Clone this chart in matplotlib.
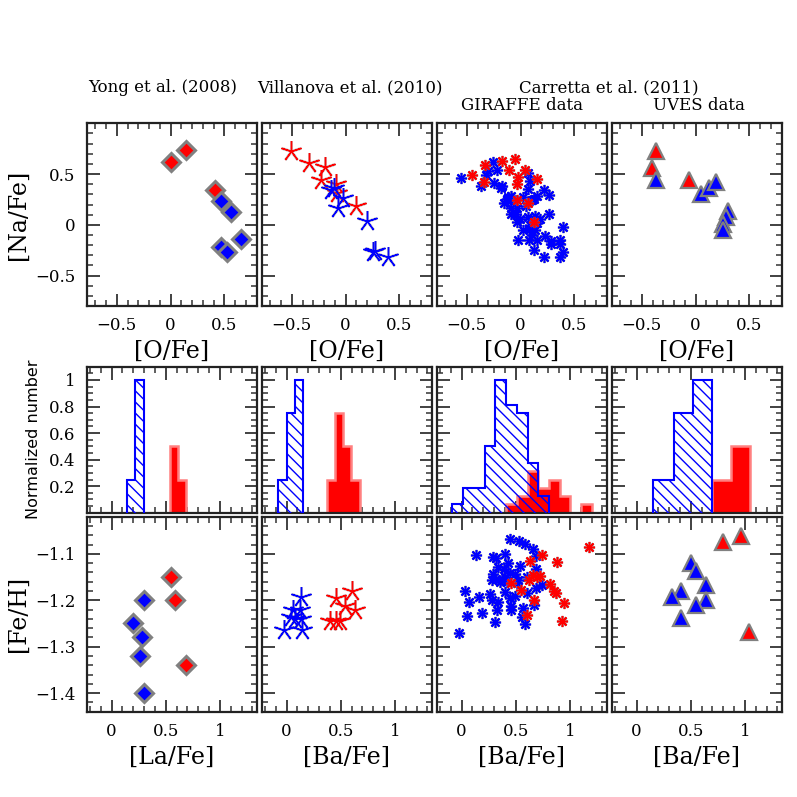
import numpy as np
import matplotlib
matplotlib.use("Agg")
import matplotlib.pyplot as plt
from matplotlib.ticker import MultipleLocator

plt.rcParams['font.family'] = 'DejaVu Serif'
plt.rcParams['hatch.linewidth'] = 1.0

RED = '#ff0000'
BLUE = '#0000ff'
GREY = '#808080'

# ---- top row: [Na/Fe] vs [O/Fe]
yong_o_red = [0.0, 0.14, 0.41]
yong_na_red = [0.62, 0.74, 0.34]
yong_o_blue = [0.47, 0.56, 0.65, 0.47, 0.52]
yong_na_blue = [0.23, 0.13, -0.14, -0.22, -0.27]

vill_o_red = [-0.51, -0.34, -0.19, -0.23, -0.09, -0.08, 0.10]
vill_na_red = [0.73, 0.61, 0.57, 0.44, 0.40, 0.31, 0.19]
vill_o_blue = [-0.14, -0.11, -0.02, -0.07, 0.20, 0.25, 0.27, 0.39]
vill_na_blue = [0.34, 0.36, 0.26, 0.17, 0.04, -0.27, -0.26, -0.32]

gir_o_red = [-0.45, -0.33, -0.17, -0.05, -0.11, 0.04, -0.02, -0.03, 0.15, -0.34, -0.03, 0.07, 0.12]
gir_na_red = [0.49, 0.59, 0.63, 0.65, 0.54, 0.54, 0.47, 0.40, 0.45, 0.42, 0.24, 0.21, 0.03]
gir_o_blue = [-0.55, -0.37, -0.32, -0.26, -0.22, -0.30, -0.25, -0.17, -0.18, 0.07,
              0.09, 0.07, 0.22, 0.26, 0.15, 0.12, -0.09, -0.13, -0.15, -0.06,
              0.02, -0.03, -0.09, -0.04, -0.03, -0.01, 0.07, 0.13, 0.18, 0.26,
              0.09, 0.15, 0.08, 0.02, 0.13, 0.11, 0.15, -0.02, 0.08, 0.23,
              0.28, 0.28, 0.37, 0.37, 0.39, 0.12, 0.22, 0.37, 0.39, -0.09,
              0.11, -0.12, 0.05]
gir_na_blue = [0.46, 0.38, 0.49, 0.62, 0.54, 0.53, 0.41, 0.38, 0.36, 0.51,
               0.43, 0.35, 0.34, 0.29, 0.28, 0.25, 0.28, 0.25, 0.21, 0.23,
               0.27, 0.17, 0.11, 0.11, 0.03, 0.06, 0.08, 0.09, 0.06, 0.11,
               0.00, 0.02, -0.04, -0.05, -0.05, -0.10, -0.15, -0.15, -0.15, -0.11,
               -0.16, -0.19, -0.15, -0.19, -0.02, -0.25, -0.32, -0.32, -0.27, 0.17,
               0.24, 0.27, 0.19]

uves_o_red = [-0.37, -0.41, -0.06]
uves_na_red = [0.73, 0.56, 0.44]
uves_o_blue = [-0.37, 0.05, 0.12, 0.19, 0.30, 0.28, 0.25, 0.25]
uves_na_blue = [0.44, 0.30, 0.36, 0.42, 0.14, 0.08, 0.01, -0.05]

# ---- bottom row: [Fe/H] vs [La/Fe] / [Ba/Fe]
yong_la_red = [0.55, 0.59, 0.69]
yong_fe_red = [-1.15, -1.20, -1.34]
yong_la_blue = [0.30, 0.20, 0.28, 0.26, 0.30]
yong_fe_blue = [-1.20, -1.25, -1.28, -1.32, -1.40]

vill_ba_red = [0.46, 0.60, 0.54, 0.63, 0.40, 0.49, 0.46]
vill_fe_red = [-1.195, -1.18, -1.213, -1.222, -1.244, -1.244, -1.245]
vill_ba_blue = [0.13, 0.06, 0.12, 0.04, 0.08, 0.13, -0.02, 0.14]
vill_fe_blue = [-1.193, -1.222, -1.222, -1.235, -1.24, -1.24, -1.264, -1.265]

gir_ba_red = [1.18, 0.74, 0.88, 0.63, 0.66, 0.72, 0.70, 0.62, 0.82, 0.85,
              0.87, 0.46, 0.55, 0.67, 0.95, 0.60, 0.93]
gir_fe_red = [-1.086, -1.102, -1.117, -1.116, -1.145, -1.147, -1.150, -1.157, -1.165, -1.180,
              -1.185, -1.163, -1.178, -1.199, -1.206, -1.231, -1.244]
gir_ba_blue = [0.45, 0.53, 0.59, 0.66, 0.69, 0.13, 0.29, 0.32, 0.40, 0.43,
               0.34, 0.39, 0.54, 0.49, 0.29, 0.28, 0.32, 0.37, 0.40, 0.45,
               0.51, 0.60, 0.69, 0.69, 0.74, 0.60, 0.49, 0.45, 0.40, 0.26,
               0.16, 0.03, 0.07, 0.28, 0.34, 0.33, 0.46, 0.46, 0.57, 0.67,
               0.19, 0.05, 0.31, 0.56, 0.59, -0.02, 0.35, 0.42, 0.52]
gir_fe_blue = [-1.069, -1.073, -1.078, -1.089, -1.104, -1.102, -1.107, -1.109, -1.100, -1.120,
               -1.129, -1.132, -1.127, -1.143, -1.143, -1.157, -1.154, -1.157, -1.150, -1.142,
               -1.163, -1.150, -1.132, -1.173, -1.168, -1.185, -1.190, -1.195, -1.183, -1.186,
               -1.192, -1.180, -1.204, -1.200, -1.204, -1.221, -1.213, -1.222, -1.216, -1.211,
               -1.227, -1.233, -1.247, -1.236, -1.251, -1.271, -1.160, -1.160, -1.157]

uves_ba_red = [0.80, 0.96, 1.04]
uves_fe_red = [-1.075, -1.061, -1.269]
uves_ba_blue = [0.505, 0.55, 0.41, 0.33, 0.64, 0.64, 0.545, 0.41]
uves_fe_blue = [-1.12, -1.138, -1.179, -1.192, -1.168, -1.199, -1.211, -1.238]

# ---- middle row: normalized histograms (bin edges, heights)
h1_blue_edges = [0.14, 0.22, 0.30]
h1_blue = [0.25, 1.0]
h1_red_edges = [0.54, 0.615, 0.69]
h1_red = [0.5, 0.25]

h2_blue_edges = [-0.075, 0.003, 0.08, 0.155]
h2_blue = [0.25, 0.75, 1.0]
h2_red_edges = [0.37, 0.447, 0.522, 0.598, 0.675]
h2_red = [0.25, 0.75, 0.5, 0.25]

h3_blue_edges = [-0.085, 0.015, 0.115, 0.215, 0.313, 0.413, 0.512, 0.612, 0.708, 0.807]
h3_blue = [0.0625, 0.1875, 0.1875, 0.5, 1.0, 0.8125, 0.75, 0.375, 0.125]
h3_red_edges = [0.413, 0.512, 0.612, 0.708, 0.807, 0.905, 1.0, 1.1, 1.2]
h3_red = [0.0625, 0.125, 0.3125, 0.1875, 0.25, 0.125, 0.0, 0.0625]

h4_blue_edges = [0.153, 0.347, 0.517, 0.693]
h4_blue = [0.25, 0.75, 1.0]
h4_red_edges = [0.693, 0.874, 1.045]
h4_red = [0.25, 0.5]

fig = plt.figure(figsize=(7.97, 7.97), dpi=100)
W = 797.0
lefts = [86.7, 261.7, 436.7, 611.7]
pw = 170.0
rows = [(123.3, 306.0), (366.7, 512.7), (516.7, 711.7)]


def make_ax(col, row):
    top, bot = rows[row]
    ax = fig.add_axes([lefts[col] / W, 1 - bot / W, pw / W, (bot - top) / W])
    for s in ax.spines.values():
        s.set_linewidth(1.6)
        s.set_color('#222222')
    ax.tick_params(which='both', direction='in', top=True, right=True,
                   color='#333333', labelsize=12, pad=8)
    ax.tick_params(which='major', length=9, width=1.3)
    ax.tick_params(which='minor', length=4.5, width=1.1)
    return ax


def diamonds(ax, x, y, c):
    ax.plot(x, y, 'D', ms=9, mfc=c, mec=GREY, mew=2.2, ls='none')


def stars5(ax, x, y, c):
    ax.plot(x, y, marker=(5, 2, 0), ms=15, mec=GREY, mew=2.0, ls='none', alpha=0.35)
    ax.plot(x, y, marker=(5, 2, 0), ms=15, mec=c, mew=1.0, ls='none')


def stars8(ax, x, y, c):
    ax.plot(x, y, marker=(8, 2, 0), ms=8, mec=GREY, mew=2.0, ls='none', alpha=0.6)
    ax.plot(x, y, marker=(8, 2, 0), ms=8, mec=c, mew=1.1, ls='none')


def triangles(ax, x, y, c):
    ax.plot(x, y, '^', ms=11, mfc=c, mec=GREY, mew=1.6, ls='none')


def hist(ax, edges, heights, kind):
    e = np.array(edges)
    h = np.array(heights)
    xs = np.repeat(e, 2)
    ys = np.concatenate([[0], np.repeat(h, 2), [0]])
    if kind == 'red':
        ax.fill_between(xs, 0, ys, color=RED, lw=0, zorder=2)
        ax.plot(xs, ys, color='#ff8080', lw=1.8, zorder=2.5, solid_joinstyle='miter')
    else:
        ax.fill_between(xs, 0, ys, facecolor='none', edgecolor=BLUE, hatch='\\\\\\',
                        lw=0, zorder=3)
        ax.plot(xs, ys, color=BLUE, lw=1.5, zorder=3.5, solid_joinstyle='miter')


top_sets = [
    (diamonds, yong_o_red, yong_na_red, yong_o_blue, yong_na_blue),
    (stars5, vill_o_red, vill_na_red, vill_o_blue, vill_na_blue),
    (stars8, gir_o_red, gir_na_red, gir_o_blue, gir_na_blue),
    (triangles, uves_o_red, uves_na_red, uves_o_blue, uves_na_blue),
]
bot_sets = [
    (diamonds, yong_la_red, yong_fe_red, yong_la_blue, yong_fe_blue),
    (stars5, vill_ba_red, vill_fe_red, vill_ba_blue, vill_fe_blue),
    (stars8, gir_ba_red, gir_fe_red, gir_ba_blue, gir_fe_blue),
    (triangles, uves_ba_red, uves_fe_red, uves_ba_blue, uves_fe_blue),
]
hists = [
    (h1_red_edges, h1_red, h1_blue_edges, h1_blue),
    (h2_red_edges, h2_red, h2_blue_edges, h2_blue),
    (h3_red_edges, h3_red, h3_blue_edges, h3_blue),
    (h4_red_edges, h4_red, h4_blue_edges, h4_blue),
]
bot_xlabels = ['[La/Fe]', '[Ba/Fe]', '[Ba/Fe]', '[Ba/Fe]']

for i in range(4):
    # top
    ax = make_ax(i, 0)
    f, xr, yr, xb, yb = top_sets[i]
    if f is stars8:
        f(ax, xb, yb, BLUE)
        f(ax, xr, yr, RED)
    else:
        f(ax, xr, yr, RED)
        f(ax, xb, yb, BLUE)
    ax.set_xlim(-0.78, 0.8)
    ax.set_ylim(-0.8, 1.0)
    ax.xaxis.set_minor_locator(MultipleLocator(0.1))
    ax.yaxis.set_minor_locator(MultipleLocator(0.1))
    ax.set_xticks([-0.5, 0, 0.5])
    ax.set_xticklabels(['\u22120.5', '0', '0.5'])
    ax.set_yticks([-0.5, 0, 0.5])
    ax.set_yticklabels(['\u22120.5', '0', '0.5'])
    ax.set_xlabel('[O/Fe]', fontsize=17, labelpad=4)
    if i == 0:
        ax.set_ylabel('[Na/Fe]', fontsize=17, labelpad=4)
    else:
        ax.tick_params(labelleft=False)

    # middle
    ax = make_ax(i, 1)
    re_, rh, be, bh = hists[i]
    hist(ax, re_, rh, 'red')
    hist(ax, be, bh, 'blue')
    ax.set_xlim(-0.23, 1.34)
    ax.set_ylim(0, 1.1)
    ax.xaxis.set_major_locator(MultipleLocator(0.5))
    ax.xaxis.set_minor_locator(MultipleLocator(0.1))
    ax.set_yticks([0.2, 0.4, 0.6, 0.8, 1.0])
    ax.set_yticklabels(['0.2', '0.4', '0.6', '0.8', '1'])
    ax.yaxis.set_minor_locator(MultipleLocator(0.05))
    ax.tick_params(labelbottom=False)
    if i == 0:
        ax.set_ylabel('Normalized number', fontsize=11.5, family='DejaVu Sans', labelpad=6)
    else:
        ax.tick_params(labelleft=False)

    # bottom
    ax = make_ax(i, 2)
    f, xr, yr, xb, yb = bot_sets[i]
    if f is stars8:
        f(ax, xb, yb, BLUE)
        f(ax, xr, yr, RED)
    else:
        f(ax, xr, yr, RED)
        f(ax, xb, yb, BLUE)
    ax.set_xlim(-0.23, 1.34)
    ax.set_ylim(-1.44, -1.02)
    ax.set_xticks([0, 0.5, 1])
    ax.set_xticklabels(['0', '0.5', '1'])
    ax.xaxis.set_minor_locator(MultipleLocator(0.1))
    ax.set_yticks([-1.4, -1.3, -1.2, -1.1])
    ax.set_yticklabels(['\u22121.4', '\u22121.3', '\u22121.2', '\u22121.1'])
    ax.yaxis.set_minor_locator(MultipleLocator(0.02))
    ax.set_xlabel(bot_xlabels[i], fontsize=17, labelpad=4)
    if i == 0:
        ax.set_ylabel('[Fe/H]', fontsize=17, labelpad=4)
    else:
        ax.tick_params(labelleft=False)

# column titles
fig.text(163 / W, 1 - 88 / W, 'Yong et al. (2008)', ha='center', va='center', fontsize=12)
fig.text(350 / W, 1 - 88 / W, 'Villanova et al. (2010)', ha='center', va='center', fontsize=12)
fig.text(609 / W, 1 - 88 / W, 'Carretta et al. (2011)', ha='center', va='center', fontsize=12)
fig.text(521.7 / W, 1 - 105 / W, 'GIRAFFE data', ha='center', va='center', fontsize=12)
fig.text(699 / W, 1 - 105 / W, 'UVES data', ha='center', va='center', fontsize=12)

fig.savefig('out.png', dpi=100)
